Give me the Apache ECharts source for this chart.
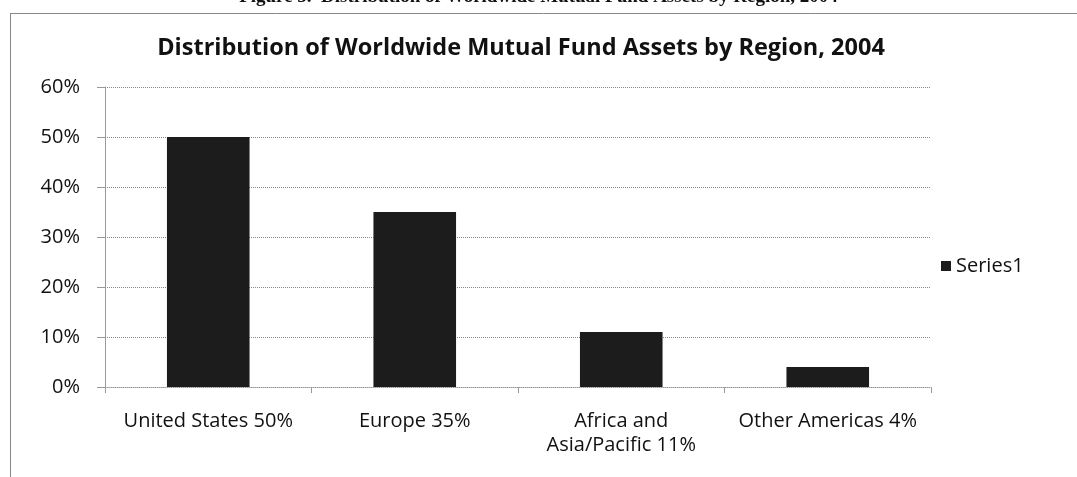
<!DOCTYPE html>
<html><head><meta charset="utf-8">
<script src="https://cdn.jsdelivr.net/npm/echarts@6/dist/echarts.min.js"></script>
<style>html,body{margin:0;padding:0;background:#fff}#c{width:1077px;height:477px}</style>
</head><body><div id="c"></div>
<script>
const categories = ['United States 50%', 'Europe 35%', 'Africa and\nAsia/Pacific 11%', 'Other Americas 4%'];
const values = [50, 35, 11, 4];
const yTicks = [0, 10, 20, 30, 40, 50, 60];

const chart = echarts.init(document.getElementById('c'), null, {renderer: 'canvas'});
const font = '"Open Sans", "DejaVu Sans", sans-serif';
chart.setOption({
  animation: false,
  backgroundColor: '#fff',
  title: {
    text: 'Distribution of Worldwide Mutual Fund Assets by Region, 2004',
    left: 516, top: 31, textAlign: 'center',
    textStyle: {fontFamily: font, fontWeight: 'bold', fontSize: 23.5, color: '#111'}
  },
  graphic: [
    {type: 'text', left: 'center', top: -12, style: {text: 'Figure 5.  Distribution of Worldwide Mutual Fund Assets by Region, 2004', fontFamily: '"Liberation Serif", serif', fontWeight: 'bold', fontSize: 19, fill: '#111'}},
    {type: 'line', shape: {x1: 10, y1: 13.5, x2: 1077, y2: 13.5}, style: {stroke: '#888', lineWidth: 1}},
    {type: 'line', shape: {x1: 10.5, y1: 13, x2: 10.5, y2: 477}, style: {stroke: '#888', lineWidth: 1}}
  ],
  legend: {
    data: ['Series1'], left: 936, top: 251, itemWidth: 10, itemHeight: 10, itemGap: 5,
    icon: 'rect', textStyle: {fontFamily: font, fontSize: 20, color: '#111'}
  },
  grid: {left: 105, right: 146, top: 87, bottom: 90, containLabel: false},
  xAxis: {
    type: 'category', data: categories,
    axisLine: {lineStyle: {color: '#999', type: 'dotted'}},
    axisTick: {show: true, length: 6, lineStyle: {color: '#999'}},
    axisLabel: {fontFamily: font, fontSize: 20, color: '#111', margin: 22, lineHeight: 24, interval: 0}
  },
  yAxis: {
    type: 'value', min: 0, max: 60, interval: 10,
    axisLine: {show: true, lineStyle: {color: '#999'}},
    axisTick: {show: true, length: 8, inside: false, lineStyle: {color: '#999'}},
    splitLine: {lineStyle: {color: '#888', type: 'dotted'}},
    axisLabel: {fontFamily: font, fontSize: 20, color: '#111', margin: 25, formatter: v => yTicks.includes(v) ? v + '%' : ''}
  },
  series: [{
    name: 'Series1', type: 'bar', data: values, barWidth: '40%',
    itemStyle: {color: '#1c1c1c'}
  }]
});
</script></body></html>
